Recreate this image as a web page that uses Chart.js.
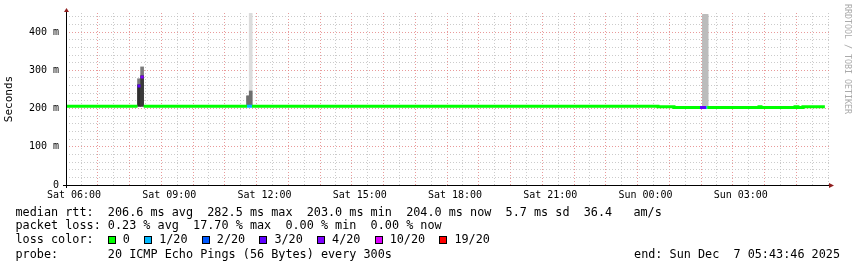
<!DOCTYPE html>
<html>
<head>
<meta charset="utf-8">
<script src="https://cdn.jsdelivr.net/npm/chart.js@4.4.1/dist/chart.umd.min.js"></script>
<style>
  body { margin: 0; background: #fff; }
  #wrap { position: relative; width: 857px; height: 267px; overflow: hidden; font-family: 'DejaVu Sans Mono', monospace; }
  #chart { position: absolute; left: 0; top: 0; }
  .leg { position: absolute; left: 15.5px; font-size: 11.8px; line-height: 14px; white-space: pre; color: #000; }
  .box { display: inline-block; width: 8px; height: 8px; border: 1px solid #000; box-sizing: border-box; margin-right: 7px; vertical-align: -0.5px; }
  #end { position: absolute; right: 17px; top: 247px; font-size: 11.8px; line-height: 14px; white-space: pre; }
  #credit { position: absolute; left: 843px; top: 4px; writing-mode: vertical-rl; font-size: 8.3px; line-height: 10px; color: #aaa; }
</style>
</head>
<body>
<div id="wrap">
  <canvas id="chart" width="857" height="267"></canvas>
  <div class="leg" id="l1" style="top:205px"></div>
  <div class="leg" id="l2" style="top:218px"></div>
  <div class="leg" id="l3" style="top:232px"></div>
  <div class="leg" id="l4" style="top:247px"></div>
  <div id="end"></div>
  <div id="credit">RRDTOOL / TOBI OETIKER</div>
</div>
<script>
// time axis: hours after Sat 00:00
var timeStart = 5.748;
var timeEnd = 29.78;
var xTickHours = [6, 9, 12, 15, 18, 21, 24, 27];
var xTickLabels = ['Sat 06:00', 'Sat 09:00', 'Sat 12:00', 'Sat 15:00', 'Sat 18:00', 'Sat 21:00', 'Sun 00:00', 'Sun 03:00'];
var yTickValues = [0, 100, 200, 300, 400];
var yTickLabels = ['0', '100 m', '200 m', '300 m', '400 m'];

// median rtt (ms) per step; medianTime has one more entry (end of last step)
var medianTime = [5.748, 8.0, 8.095, 8.195, 11.449, 11.607, 24.394, 24.898, 25.717, 25.906, 25.947, 27.575, 27.638, 28.71, 28.80, 28.958, 29.65];
var medianMs   = [206, 259, 282.5, 206, 206, 206, 204.5, 202.5, 202.5, 202.5, 202.5, 204.5, 202.5, 204.5, 202.5, 204.5];
var medianLost = [0, 3, 4, 0, 1, 0, 0, 0, 3, 1, 0, 0, 0, 0, 0, 0];

// smoke (ping spread) at the few steps where it shows
var smokeTime = [8.048, 8.145, 11.487, 11.566, 25.843, 25.921];
var smokeMin  = [206, 206, 205, 205, 202, 202];
var smokeMid  = [262, 286, 233, 246, 446, 446];
var smokeMax  = [278, 309, 233, 470, 446, 446];

var lossThreshold = [0, 1, 2, 3, 4, 10, 19];
var lossLabels = ['0', '1/20', '2/20', '3/20', '4/20', '10/20', '19/20'];
var lossColors = ['#00ff00', '#00b8ff', '#0059ff', '#5e00ff', '#7e00ff', '#dd00ff', '#ff0000'];

function bucket(lost) {
    var b = 0;
    for (var i = 0; i < lossThreshold.length; i++) {
        if (lost >= lossThreshold[i]) b = i;
    }
    return b;
}

// one stepped line per loss colour, broken where another colour takes over
function medianLine(b) {
    var pts = [];
    for (var i = 0; i < medianMs.length; i++) {
        if (bucket(medianLost[i]) !== b) continue;
        pts.push({x: medianTime[i], y: medianMs[i]});
        if (i + 1 >= medianMs.length || bucket(medianLost[i + 1]) !== b) {
            pts.push({x: medianTime[i + 1], y: medianMs[i]});
            pts.push({x: medianTime[i + 1], y: null});
        }
    }
    return pts;
}

var datasets = [];
lossColors.forEach(function(c, b) {
    var pts = medianLine(b);
    if (!pts.length) return;
    datasets.push({
        type: 'line',
        data: pts,
        borderColor: c,
        borderWidth: 3,
        stepped: true,
        pointRadius: 0,
        spanGaps: false,
        borderCapStyle: 'butt',
        order: 0
    });
});

datasets.push({
    type: 'bar',
    data: smokeTime.map(function(t, i) { return {x: t, y: [smokeMin[i], smokeMid[i]]}; }),
    backgroundColor: ['#2e2e2e', '#3a3a3a', '#6e6e6e', '#6e6e6e', '#bcbcbc', '#bcbcbc'],
    barThickness: 3,
    grouped: false,
    borderWidth: 0,
    order: 2
});
datasets.push({
    type: 'bar',
    data: smokeTime.map(function(t, i) { return {x: t, y: [smokeMin[i], smokeMax[i]]}; }),
    backgroundColor: ['#7a7a7a', '#7a7a7a', '#6e6e6e', '#dcdcdc', '#bcbcbc', '#bcbcbc'],
    barThickness: 3,
    grouped: false,
    borderWidth: 0,
    order: 3
});

var majorGrid = 'rgba(225, 120, 120, 0.75)';
var minorGrid = 'rgba(190, 190, 190, 0.8)';

// rrdtool style axes with arrows
var rrdAxes = {
    id: 'rrdAxes',
    afterDatasetsDraw: function(chart) {
        var c = chart.ctx, a = chart.chartArea;
        c.save();
        c.strokeStyle = '#000';
        c.lineWidth = 1;
        c.beginPath();
        c.moveTo(a.left - 3, a.bottom + 0.5);
        c.lineTo(a.right + 1, a.bottom + 0.5);
        c.moveTo(a.left + 0.5, a.bottom + 3);
        c.lineTo(a.left + 0.5, a.top - 1);
        c.stroke();
        c.fillStyle = '#8f1e1e';
        c.beginPath();
        c.moveTo(a.right, a.bottom - 2);
        c.lineTo(a.right + 5, a.bottom + 0.5);
        c.lineTo(a.right, a.bottom + 3);
        c.closePath();
        c.fill();
        c.beginPath();
        c.moveTo(a.left - 2, a.top - 1);
        c.lineTo(a.left + 0.5, a.top - 5);
        c.lineTo(a.left + 3, a.top - 1);
        c.closePath();
        c.fill();
        c.restore();
    }
};

new Chart(document.getElementById('chart'), {
    type: 'line',
    data: { datasets: datasets },
    plugins: [rrdAxes],
    options: {
        responsive: false,
        animation: false,
        layout: { padding: { top: 13, right: 28, bottom: 64, left: 0 } },
        plugins: { legend: { display: false }, tooltip: { enabled: false } },
        scales: {
            x: {
                type: 'linear',
                min: timeStart,
                max: timeEnd,
                offset: false,
                afterBuildTicks: function(s) {
                    var t = [];
                    for (var h = 6; h < timeEnd; h += 0.5) t.push({value: h});
                    s.ticks = t;
                },
                afterFit: function(s) { s.height = 18; },
                ticks: {
                    autoSkip: false,
                    maxRotation: 0,
                    padding: 4,
                    color: '#000',
                    font: { family: 'DejaVu Sans Mono', size: 10 },
                    callback: function(v) {
                        var i = xTickHours.indexOf(v);
                        return i >= 0 ? xTickLabels[i] : '';
                    }
                },
                grid: {
                    drawTicks: false,
                    color: function(c) { return c.tick && c.tick.value % 1 === 0 ? majorGrid : minorGrid; }
                },
                border: { display: false, dash: [1, 2] }
            },
            y: {
                min: 0,
                max: 450,
                afterBuildTicks: function(s) {
                    var t = [];
                    for (var v = 0; v < 450; v += 20) t.push({value: v});
                    s.ticks = t;
                },
                afterFit: function(s) { s.width = 66; },
                ticks: {
                    autoSkip: false,
                    padding: 7,
                    color: '#000',
                    font: { family: 'DejaVu Sans Mono', size: 10 },
                    callback: function(v) {
                        var i = yTickValues.indexOf(v);
                        return i >= 0 ? yTickLabels[i] : '';
                    }
                },
                title: {
                    display: true,
                    text: 'Seconds',
                    color: '#000',
                    padding: { top: 3, bottom: 0 },
                    font: { family: 'DejaVu Sans Mono', size: 11 }
                },
                grid: {
                    drawTicks: false,
                    color: function(c) { return c.tick && c.tick.value % 100 === 0 ? majorGrid : minorGrid; }
                },
                border: { display: false, dash: [1, 2] }
            }
        }
    }
});

// legend text below the graph
document.getElementById('l1').textContent = 'median rtt:  206.6 ms avg  282.5 ms max  203.0 ms min  204.0 ms now  5.7 ms sd  36.4   am/s';
document.getElementById('l2').textContent = 'packet loss: 0.23 % avg  17.70 % max  0.00 % min  0.00 % now';
var l3 = document.getElementById('l3');
l3.appendChild(document.createTextNode('loss color:  '));
lossLabels.forEach(function(lab, i) {
    var box = document.createElement('span');
    box.className = 'box';
    box.style.background = lossColors[i];
    l3.appendChild(box);
    l3.appendChild(document.createTextNode(lab + '  '));
});
document.getElementById('l4').textContent = 'probe:       20 ICMP Echo Pings (56 Bytes) every 300s';
document.getElementById('end').textContent = 'end: Sun Dec  7 05:43:46 2025';
</script>
</body>
</html>
